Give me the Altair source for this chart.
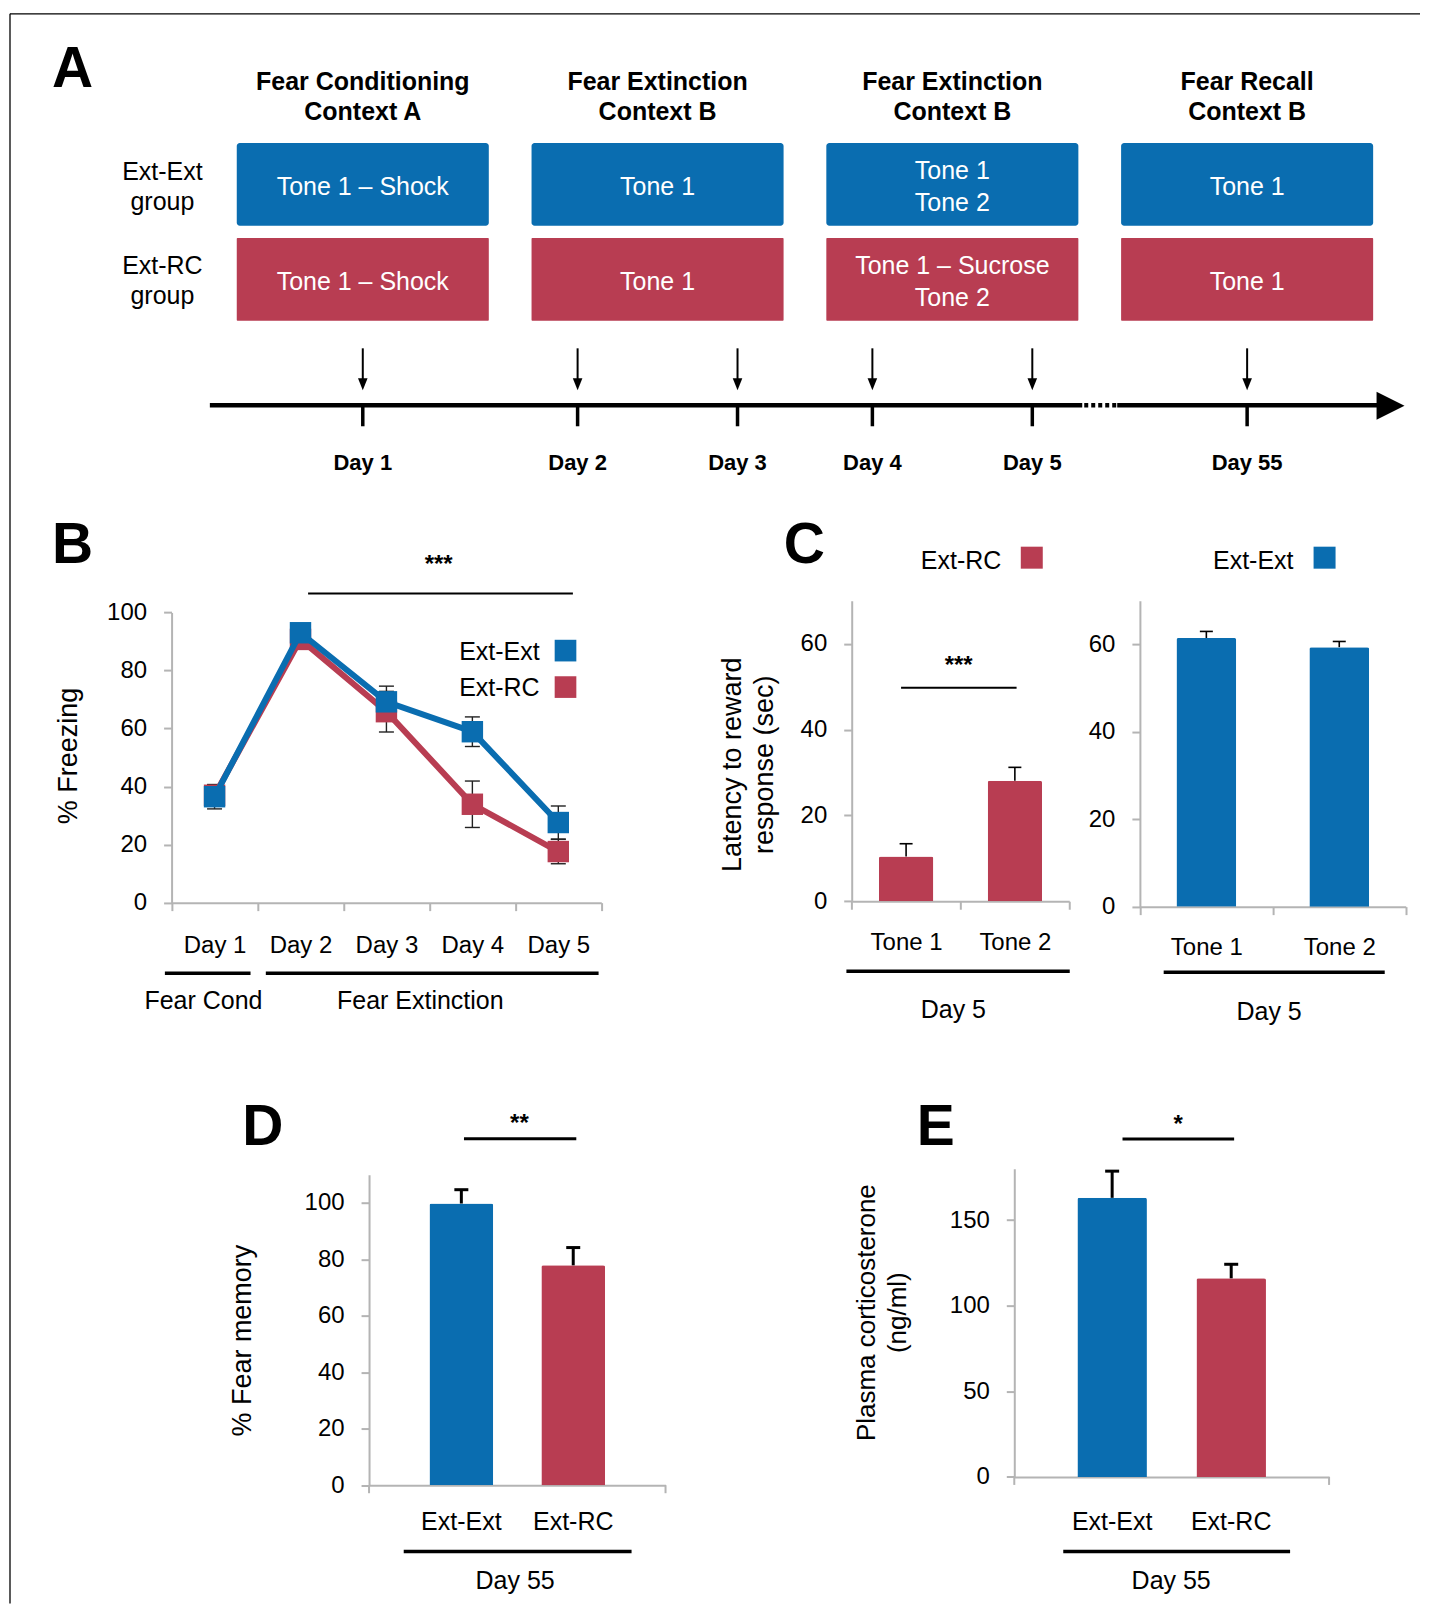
import altair as alt

FONT = "Liberation Sans"
BLUE = "#0a6db0"
RED = "#b83d52"
GRAY = "#b4b4b4"

# ---------------- data ----------------
# Panel A (protocol diagram)
phase_ids = ["cond", "ext1", "ext2", "recall"]
phase_title = [["Fear Conditioning", "Context A"], ["Fear Extinction", "Context B"],
               ["Fear Extinction", "Context B"], ["Fear Recall", "Context B"]]
ext_ext_protocol = [["Tone 1 – Shock"], ["Tone 1"], ["Tone 1", "Tone 2"], ["Tone 1"]]
ext_rc_protocol = [["Tone 1 – Shock"], ["Tone 1"], ["Tone 1 – Sucrose", "Tone 2"], ["Tone 1"]]
group_labels = ["Ext-Ext", "Ext-RC"]
timeline_days = ["Day 1", "Day 2", "Day 3", "Day 4", "Day 5", "Day 55"]
timeline_phase = ["cond", "ext1", "ext1", "ext2", "ext2", "recall"]
timeline_slot = ["C", "L", "R", "L", "R", "C"]

# Panel B (% freezing)
b_days = ["Day 1", "Day 2", "Day 3", "Day 4", "Day 5"]
b_ext_ext = [36.5, 93.0, 69.2, 58.9, 27.6]
b_ext_ext_sem = [4.2, 1.5, 5.4, 5.1, 5.7]
b_ext_rc = [37.0, 90.7, 65.8, 33.9, 17.6]
b_ext_rc_sem = [3.5, 1.5, 7.0, 8.0, 4.2]

# Panel C (latency to reward response, Day 5)
tones = ["Tone 1", "Tone 2"]
c_ext_rc = [10.4, 28.1]
c_ext_rc_sem = [3.0, 3.1]
c_ext_ext = [61.5, 59.4]
c_ext_ext_sem = [1.5, 1.3]

# Panel D (% fear memory, Day 55)
d_fear_memory = [99.8, 77.9]
d_fear_memory_sem = [4.9, 6.3]

# Panel E (plasma corticosterone, Day 55)
e_cort = [163.0, 116.0]
e_cort_sem = [15.6, 8.2]

W, H = 1413, 1596
one = alt.Data(values=[{"k": 0}])
color_scale = alt.Scale(domain=group_labels, range=[BLUE, RED])


def txt(text, x, y, size=25, bold=False, align="center", angle=0, lh=None, color="black"):
    kw = dict(text=text, font=FONT, fontSize=size, align=align, baseline="alphabetic", color=color)
    if bold:
        kw["fontWeight"] = "bold"
    if angle:
        kw["angle"] = angle
    if lh:
        kw["lineHeight"] = lh
    return alt.Chart(one).mark_text(**kw).encode(x=alt.value(x), y=alt.value(y))


def hline(x1, x2, y, w=2.0, color="black", dash=None):
    kw = dict(color=color, strokeWidth=w)
    if dash:
        kw["strokeDash"] = dash
    return alt.Chart(one).mark_rule(**kw).encode(x=alt.value(x1), x2=alt.value(x2), y=alt.value(y))


def vline(x, y1, y2, w=1.3, color="black"):
    return alt.Chart(one).mark_rule(color=color, strokeWidth=w).encode(
        x=alt.value(x), y=alt.value(y1), y2=alt.value(y2))


def legend_sq(x, y, color, size=470):
    return alt.Chart(one).mark_square(color=color, size=size, opacity=1).encode(
        x=alt.value(x), y=alt.value(y))


def x_axis(y_pos, lab_pad, size=24, ticks=True, band_ticks=True):
    kw = dict(title=None, labelAngle=0, labelFontSize=size, labelPadding=lab_pad,
              orient="bottom", offset=y_pos - H, ticks=ticks)
    if band_ticks:
        kw["tickBand"] = "extent"
    return alt.Axis(**kw)


def y_axis(x_pos, values):
    return alt.Axis(values=values, title=None, labelPadding=17, labelFontSize=24,
                    orient="left", offset=-x_pos)


# ---------------- Panel A ----------------
phase_data = alt.Data(values=[
    {"phase": p, "title": t, "ee": a, "rc": b}
    for p, t, a, b in zip(phase_ids, phase_title, ext_ext_protocol, ext_rc_protocol)
])
day_data = alt.Data(values=[
    {"day": d, "phase": p, "slot": s}
    for d, p, s in zip(timeline_days, timeline_phase, timeline_slot)
])
xA = alt.X("phase:N", scale=alt.Scale(domain=phase_ids, paddingInner=0.145,
                                        paddingOuter=0.4675, align=0.83), axis=None)
xoA = alt.XOffset("slot:N", scale=alt.Scale(domain=["L", "C", "R"], paddingInner=0,
                                              paddingOuter=0.076))


def box_text(field, y_single, y_double):
    base = alt.Chart(phase_data)
    kw = dict(font=FONT, fontSize=25, lineHeight=32, baseline="alphabetic", color="white")
    return [
        base.transform_filter(f"length(datum.{field}) == 1").mark_text(**kw).encode(
            x=xA, y=alt.value(y_single), text=f"{field}:N"),
        base.transform_filter(f"length(datum.{field}) > 1").mark_text(**kw).encode(
            x=xA, y=alt.value(y_double), text=f"{field}:N"),
    ]


a_layers = [
    hline(2, W, 5.3, w=1.3),
    vline(2, 5.3, H, w=1.3),
    txt("A", 64.5, 78.7, size=57, bold=True),
    alt.Chart(phase_data).mark_text(font=FONT, fontSize=25, fontWeight="bold", lineHeight=30,
                                    baseline="alphabetic", color="black").encode(
        x=xA, y=alt.value(81.6), text="title:N"),
    alt.Chart(phase_data).mark_rect(color=BLUE, cornerRadius=3).encode(
        x=xA, y=alt.value(134.6), y2=alt.value(217.3)),
    alt.Chart(phase_data).mark_rect(color=RED, cornerRadius=1).encode(
        x=xA, y=alt.value(229.7), y2=alt.value(312.3)),
    *box_text("ee", 187, 170.5),
    *box_text("rc", 282, 265.5),
    txt([group_labels[0], "group"], 154.5, 171.5, lh=30),
    txt([group_labels[1], "group"], 154.5, 265.5, lh=30),
    alt.Chart(day_data).mark_rule(color="black", strokeWidth=2).encode(
        x=xA, xOffset=xoA, y=alt.value(340), y2=alt.value(374)),
    alt.Chart(day_data).mark_point(shape="M-0.8,-1L0.8,-1L0,1Z", filled=True, color="black",
                                   size=144, opacity=1).encode(
        x=xA, xOffset=xoA, y=alt.value(376)),
    hline(202, 1075, 397, w=4.5),
    hline(1077, 1110, 397, w=4.5, dash=[4, 3]),
    hline(1110, 1372, 397, w=4.5),
    alt.Chart(one).mark_point(shape="M-1,-1L1,0L-1,1Z", filled=True, color="black",
                              size=784, opacity=1).encode(x=alt.value(1383.5), y=alt.value(397.5)),
    alt.Chart(day_data).mark_rule(color="black", strokeWidth=3.5).encode(
        x=xA, xOffset=xoA, y=alt.value(397), y2=alt.value(418)),
    alt.Chart(day_data).mark_text(font=FONT, fontSize=22, fontWeight="bold", baseline="alphabetic",
                                  color="black").encode(
        x=xA, xOffset=xoA, y=alt.value(462), text="day:N"),
]
panelA = alt.layer(*a_layers)

# ---------------- Panel B ----------------
b_records = []
for g, means, sems in [("Ext-Ext", b_ext_ext, b_ext_ext_sem), ("Ext-RC", b_ext_rc, b_ext_rc_sem)]:
    for d, m, s in zip(b_days, means, sems):
        b_records.append({"group": g, "day": d, "mean": m, "lo": m - s, "hi": m + s})
b_data = alt.Data(values=b_records)

xB = alt.X("day:N", scale=alt.Scale(domain=b_days, paddingInner=0, paddingOuter=0,
                                      range=[163.7, 593.7]),
           axis=x_axis(894.7, 23))
ysB = alt.Scale(domain=[0, 100], range=[894.7, 604.3])
axB = y_axis(163.7, [0, 20, 40, 60, 80, 100])
colB = alt.Color("group:N", scale=color_scale, legend=None)

baseB = alt.Chart(b_data)
b_layers = [
    baseB.mark_rule(color="#222", strokeWidth=1.4).encode(
        x=xB, y=alt.Y("lo:Q", scale=ysB, axis=axB), y2="hi:Q"),
    baseB.mark_tick(color="#222", thickness=1.4, size=15, opacity=1).encode(
        x=xB, y=alt.Y("lo:Q", scale=ysB, axis=axB)),
    baseB.mark_tick(color="#222", thickness=1.4, size=15, opacity=1).encode(
        x=xB, y=alt.Y("hi:Q", scale=ysB, axis=axB)),
]
for g in ["Ext-RC", "Ext-Ext"]:
    f = baseB.transform_filter(alt.datum.group == g)
    b_layers.append(f.mark_line(strokeWidth=6).encode(
        x=xB, y=alt.Y("mean:Q", scale=ysB, axis=axB), color=colB))
    b_layers.append(f.mark_square(size=460, opacity=1).encode(
        x=xB, y=alt.Y("mean:Q", scale=ysB, axis=axB), color=colB))
b_layers += [
    txt("B", 64.5, 555, size=57, bold=True),
    txt("***", 431, 564, size=24, bold=True),
    hline(300.3, 565.3, 585.3, w=2),
    txt(group_labels[0], 532, 651.7, align="right"),
    txt(group_labels[1], 532, 687.7, align="right"),
    legend_sq(557.9, 642.5, BLUE),
    legend_sq(557.9, 679, RED),
    hline(157, 242.7, 965.3, w=3.5),
    hline(258, 591, 965.3, w=3.5),
    txt("Fear Cond", 195.6, 1001),
    txt("Fear Extinction", 412.6, 1001),
    txt("% Freezing", 69.3, 748, size=27, angle=270),
]
panelB = alt.layer(*b_layers)


# ---------------- Panel C ----------------
def tone_panel(means, sems, color, band, xr, yr, lab_pad):
    recs = [{"tone": t, "mean": m, "hi": m + s} for t, m, s in zip(tones, means, sems)]
    base = alt.Chart(alt.Data(values=recs))
    x = alt.X("tone:N", scale=alt.Scale(domain=tones, paddingInner=0, paddingOuter=0, range=xr),
              axis=x_axis(yr[0], lab_pad))
    ys = alt.Scale(domain=[0, 70], range=yr)
    ax = y_axis(xr[0], [0, 20, 40, 60])
    return [
        base.mark_bar(color=color, width=alt.RelativeBandSize(band), cornerRadiusTopLeft=2,
                      cornerRadiusTopRight=2).encode(x=x, y=alt.Y("mean:Q", scale=ys, axis=ax)),
        base.mark_rule(color="black", strokeWidth=1.6).encode(
            x=x, y=alt.Y("mean:Q", scale=ys, axis=ax), y2="hi:Q"),
        base.mark_tick(color="black", thickness=1.6, size=13, opacity=1).encode(
            x=x, y=alt.Y("hi:Q", scale=ys, axis=ax)),
    ]


c1_layers = tone_panel(c_ext_rc, c_ext_rc_sem, RED, 0.5, [844.3, 1062], [893.3, 592.7], 21.7) + [
    txt("C", 797, 555, size=57, bold=True),
    txt(group_labels[1], 994, 561, align="right"),
    legend_sq(1024.5, 549.5, RED, size=484),
    txt("***", 951.3, 664.8, size=24, bold=True),
    hline(893.7, 1009.3, 679.7, w=2),
    txt(["Latency to reward", "response (sec)"], 733.6, 756.7, size=27, angle=270, lh=32),
    hline(839, 1062.5, 963.3, w=3.5),
    txt("Day 5", 946, 1010.5),
]
panelC1 = alt.layer(*c1_layers)

c2_layers = tone_panel(c_ext_ext, c_ext_ext_sem, BLUE, 0.45, [1132.7, 1398.7], [898.7, 592.7], 20.8) + [
    txt(group_labels[0], 1286.4, 561, align="right"),
    legend_sq(1317.5, 549.5, BLUE, size=484),
    hline(1156.5, 1377.7, 964.4, w=3.5),
    txt("Day 5", 1262, 1012.6),
]
panelC2 = alt.layer(*c2_layers)


# ---------------- Panels D and E ----------------
def group_panel(means, sems, xr, yr, ydom, yvals, pin, pout, lab_pad):
    recs = [{"group": g, "mean": m, "hi": m + s} for g, m, s in zip(group_labels, means, sems)]
    base = alt.Chart(alt.Data(values=recs))
    x = alt.X("group:N", scale=alt.Scale(domain=group_labels, paddingInner=pin, paddingOuter=pout,
                                           range=xr),
              axis=x_axis(yr[0], lab_pad, size=25, ticks=False, band_ticks=False))
    ys = alt.Scale(domain=ydom, range=yr)
    ax = y_axis(xr[0], yvals)
    col = alt.Color("group:N", scale=color_scale, legend=None)
    return [
        base.mark_bar(cornerRadiusTopLeft=2, cornerRadiusTopRight=2).encode(
            x=x, y=alt.Y("mean:Q", scale=ys, axis=ax), color=col),
        base.mark_rule(color="black", strokeWidth=3).encode(
            x=x, y=alt.Y("mean:Q", scale=ys, axis=ax), y2="hi:Q"),
        base.mark_tick(color="black", thickness=3, size=14, opacity=1).encode(
            x=x, y=alt.Y("hi:Q", scale=ys, axis=ax)),
        vline(xr[0], yr[0], yr[0] + 8, w=2, color=GRAY),
        vline(xr[1], yr[0], yr[0] + 8, w=2, color=GRAY),
    ]


d_layers = group_panel(d_fear_memory, d_fear_memory_sem, [361.3, 658], [1477.7, 1167], [0, 110],
                       [0, 20, 40, 60, 80, 100], 0.43, 0.54, 24.5) + [
    txt("D", 255, 1137, size=57, bold=True),
    txt("**", 511.8, 1123.7, size=24, bold=True),
    hline(456.3, 568.7, 1131, w=3),
    txt("% Fear memory", 243, 1333, size=27, angle=270),
    hline(396, 624, 1544, w=3.5),
    txt("Day 55", 507.5, 1582),
]
panelD = alt.layer(*d_layers)

e_layers = group_panel(e_cort, e_cort_sem, [1007, 1322], [1469.4, 1161], [0, 180],
                       [0, 50, 100, 150], 0.416, 0.53, 32.9) + [
    txt("E", 928.5, 1137, size=57, bold=True),
    txt("*", 1171, 1124, size=24, bold=True),
    hline(1115.3, 1227, 1131.3, w=3),
    txt(["Plasma corticosterone", "(ng/ml)"], 867.5, 1305, size=26, angle=270, lh=31),
    hline(1056, 1283, 1544, w=3.5),
    txt("Day 55", 1164, 1582),
]
panelE = alt.layer(*e_layers)

chart = alt.layer(panelA, panelB, panelC1, panelC2, panelD, panelE).resolve_scale(
    x="independent", y="independent", xOffset="independent"
).resolve_axis(
    x="independent", y="independent"
).properties(
    width=W, height=H, padding=0
).configure_view(strokeWidth=0).configure_axis(
    domainColor=GRAY, domainWidth=2, tickColor=GRAY, tickWidth=2, tickSize=8,
    labelColor="black", labelFont=FONT, grid=False,
)

chart.save("out.html", embed_options={"renderer": "svg", "actions": False})
